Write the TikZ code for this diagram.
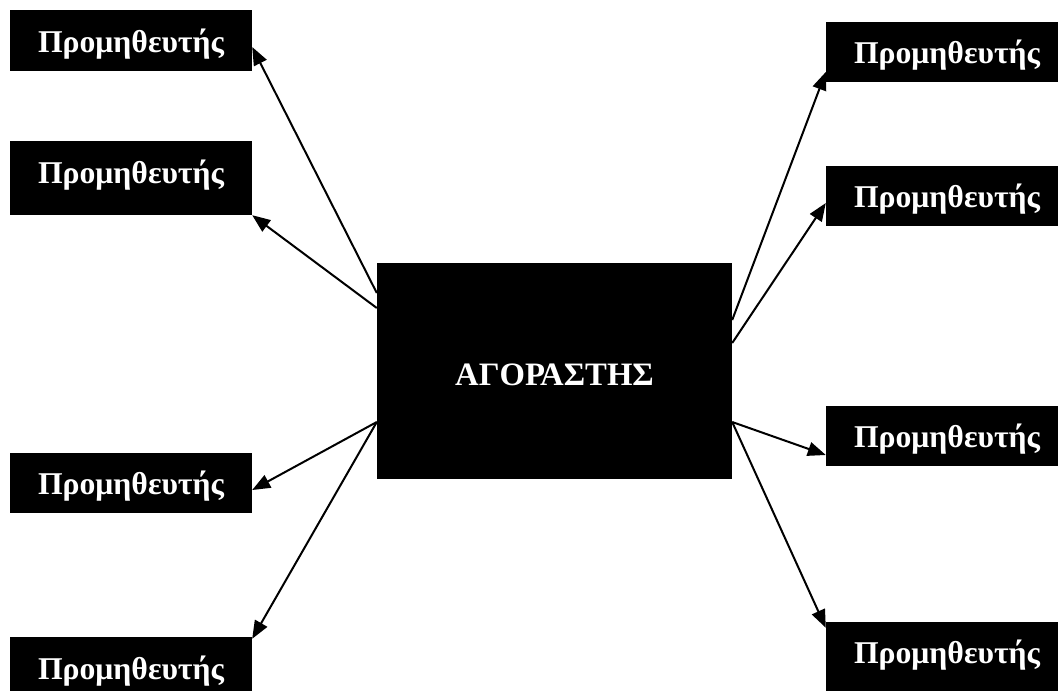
\documentclass[tikz,border=0pt]{standalone}
\usepackage{fontspec}
\setmainfont{Liberation Serif}
\usetikzlibrary{arrows.meta}
\begin{document}
\begin{tikzpicture}[x=1pt,y=-1pt,
  sbox/.style={fill=black,text=white,font=\bfseries\fontsize{31.7}{38}\selectfont,
    minimum width=242pt,minimum height=61pt,inner sep=0pt,anchor=center,
    text height=25pt,text depth=2pt},
  arr/.style={line width=2pt,-{Triangle[length=18pt,width=14pt]}}]
\useasboundingbox (0,0) rectangle (1058,691);
\node[fill=black,text=white,font=\bfseries\fontsize{32.7}{39}\selectfont,
  minimum width=355pt,minimum height=216pt,inner sep=0pt,
  text height=30pt,text depth=2pt] (buyer) at (554.5,371) {ΑΓΟΡΑΣΤΗΣ};
\node[sbox] (l1) at (131,40.5) {Προμηθευτής};
\node[sbox,minimum height=74pt,text depth=15pt] (l2) at (131,178) {Προμηθευτής};
\node[sbox,minimum height=60pt] (l3) at (131,483) {Προμηθευτής};
\node[sbox] (l4) at (131,667.5) {Προμηθευτής};
\node[sbox,minimum height=60pt] (r1) at (947,52) {Προμηθευτής};
\node[sbox,minimum height=60pt] (r2) at (947,196) {Προμηθευτής};
\node[sbox,minimum height=60pt] (r3) at (947,436) {Προμηθευτής};
\node[sbox,minimum height=74pt,text depth=17pt] (r4) at (947,659) {Προμηθευτής};
\draw[arr] ([yshift=78pt]buyer.west) -- ([yshift=-6.5pt]l1.east);
\draw[arr] ([yshift=63pt]buyer.west) -- (l2.south east);
\draw[arr] ([yshift=-51pt]buyer.west) -- ([yshift=-7pt]l3.east);
\draw[arr] ([yshift=-51pt]buyer.west) -- ([yshift=-2pt]l4.north east);
\draw[arr] ([yshift=51pt]buyer.east) -- ([yshift=-20pt]r1.west);
\draw[arr] ([yshift=28pt]buyer.east) -- ([yshift=-7pt]r2.west);
\draw[arr] ([yshift=-51pt]buyer.east) -- ([yshift=-19pt]r3.west);
\draw[arr] ([yshift=-51pt]buyer.east) -- ([yshift=-6pt]r4.north west);
\end{tikzpicture}
\end{document}
